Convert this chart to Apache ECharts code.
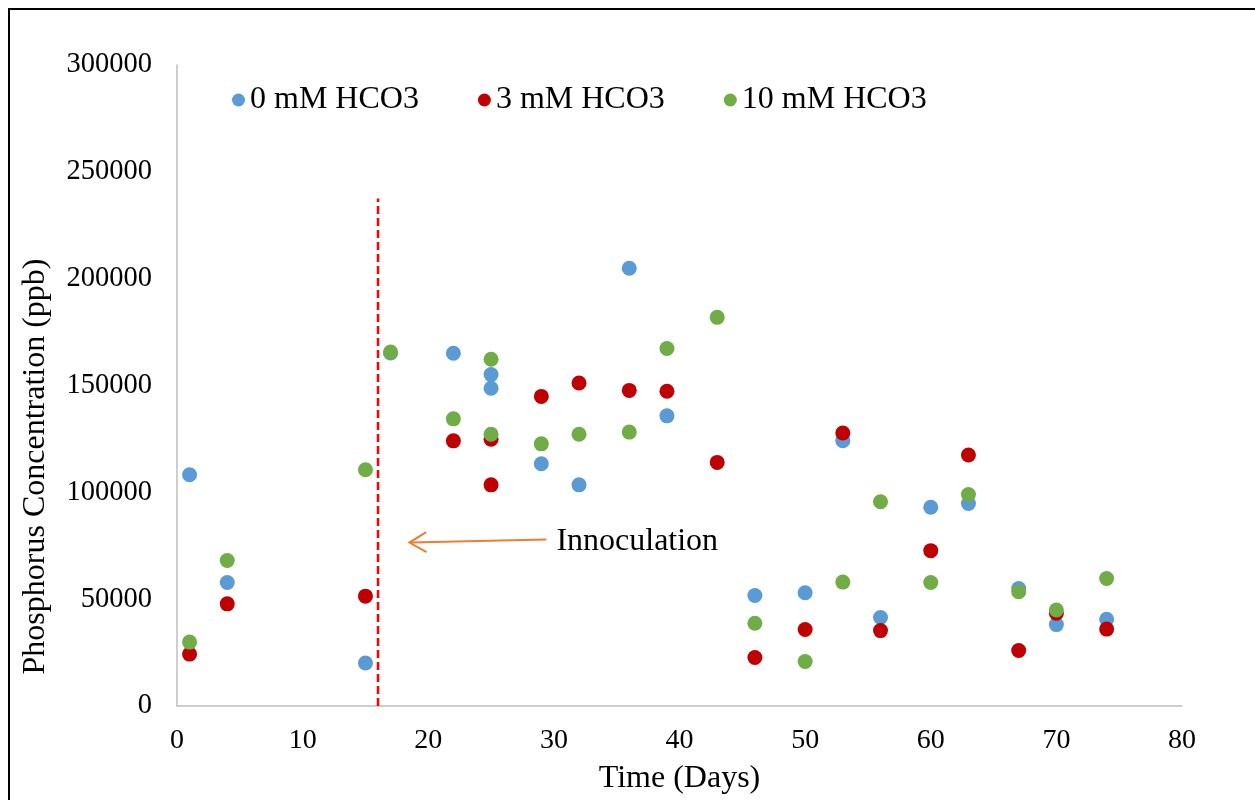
<!DOCTYPE html>
<html>
<head>
<meta charset="utf-8">
<script src="https://cdn.jsdelivr.net/npm/echarts@6/dist/echarts.min.js"></script>
<style>html,body{margin:0;padding:0;background:#fff}#c{width:1255px;height:800px}</style>
</head>
<body>
<div id="c"></div>
<script>
const seriesNames = ['0 mM HCO3', '3 mM HCO3', '10 mM HCO3'];
const xTicks = [0, 10, 20, 30, 40, 50, 60, 70, 80];
const yTicks = [0, 50000, 100000, 150000, 200000, 250000, 300000];

const days0 = [1, 4, 15, 17, 22, 25, 25, 29, 32, 36, 39, 46, 50, 53, 56, 60, 63, 67, 70, 74];
const vals0 = [108200, 57800, 20100, 165200, 165100, 155100, 148700, 113400, 103500, 204900, 135800, 51700, 53000, 124200, 41400, 93000, 94800, 55000, 38100, 40600];

const days3 = [1, 4, 15, 22, 25, 25, 29, 32, 36, 39, 43, 46, 50, 53, 56, 60, 63, 67, 70, 74];
const vals3 = [24300, 47800, 51400, 124100, 124900, 103500, 144900, 151200, 147700, 147300, 114000, 22700, 35800, 127800, 35300, 72700, 117500, 26000, 43400, 36000];

const days10 = [1, 4, 15, 17, 22, 25, 25, 29, 32, 36, 39, 43, 46, 50, 53, 56, 60, 63, 67, 70, 74];
const vals10 = [29900, 68100, 110600, 165700, 134400, 162300, 127200, 122700, 127200, 128200, 167300, 181900, 38700, 20800, 58000, 95600, 57800, 99000, 53500, 44900, 59700];

const inoculationDay = 16;
const inoculationTop = 237500;
const arrowFrom = [29.4, 77900];
const arrowTo = [18.5, 76500];
const labelAt = [30.2, 76900];
const annotationText = 'Innoculation';

const colors = ['#5B9BD5', '#C00000', '#70AD47'];
const font = '"Liberation Serif", "Times New Roman", serif';

function zip(a, b) { return a.map((d, i) => [d, b[i]]); }

const chart = echarts.init(document.getElementById('c'), null, {renderer: 'canvas'});
chart.setOption({
  animation: false,
  backgroundColor: '#fff',
  textStyle: {fontFamily: font, color: '#000'},
  graphic: [{
    type: 'rect', z: 100,
    shape: {x: 9, y: 9, width: 1400, height: 1000},
    style: {fill: 'none', stroke: '#000', lineWidth: 2}
  }],
  grid: {left: 177, top: 65, right: 73, bottom: 92, containLabel: false},
  legend: {
    top: 79, left: 227,
    icon: 'circle', itemWidth: 13, itemHeight: 13, itemGap: 59,
    textStyle: {fontFamily: font, fontSize: 32, color: '#000'},
    data: seriesNames
  },
  xAxis: {
    type: 'value', min: xTicks[0], max: xTicks[xTicks.length - 1], interval: 10,
    name: 'Time (Days)', nameLocation: 'middle', nameGap: 57,
    nameTextStyle: {fontFamily: font, fontSize: 32, color: '#000'},
    axisLine: {lineStyle: {color: '#BFBFBF', width: 1.5}},
    axisTick: {show: false},
    splitLine: {show: false},
    axisLabel: {fontFamily: font, fontSize: 28, color: '#000', margin: 21}
  },
  yAxis: {
    type: 'value', min: yTicks[0], max: yTicks[yTicks.length - 1], interval: 50000,
    name: 'Phosphorus Concentration (ppb)', nameLocation: 'middle', nameGap: 125,
    nameTextStyle: {fontFamily: font, fontSize: 32, color: '#000', padding: [0, 162, 0, 0]},
    axisLine: {show: true, lineStyle: {color: '#BFBFBF', width: 1.5}},
    axisTick: {show: false},
    splitLine: {show: false},
    axisLabel: {fontFamily: font, fontSize: 28.5, color: '#000', margin: 25, formatter: function (v) { return String(v); }}
  },
  series: [
    {name: seriesNames[0], type: 'scatter', symbolSize: 15, itemStyle: {color: colors[0], opacity: 1}, data: zip(days0, vals0), z: 3},
    {name: seriesNames[1], type: 'scatter', symbolSize: 15, itemStyle: {color: colors[1], opacity: 1}, data: zip(days3, vals3), z: 4},
    {name: seriesNames[2], type: 'scatter', symbolSize: 15, itemStyle: {color: colors[2], opacity: 1}, data: zip(days10, vals10), z: 5},
    {
      name: 'inoculation', type: 'line', symbol: 'none', silent: true, z: 2,
      lineStyle: {color: '#FF0000', width: 2.5, type: [8, 4]},
      data: [[inoculationDay, 0], [inoculationDay, inoculationTop]]
    },
    {
      name: 'annotation', type: 'custom', silent: true, z: 6,
      data: [[arrowFrom[0], arrowFrom[1], arrowTo[0], arrowTo[1], labelAt[0], labelAt[1]]],
      renderItem: function (params, api) {
        const p1 = api.coord([api.value(0), api.value(1)]);
        const p2 = api.coord([api.value(2), api.value(3)]);
        const pt = api.coord([api.value(4), api.value(5)]);
        const dx = p1[0] - p2[0], dy = p1[1] - p2[1];
        const L = Math.sqrt(dx * dx + dy * dy);
        const ux = dx / L, uy = dy / L;
        const h = 17, w = 10;
        const a = [p2[0] + ux * h - uy * w, p2[1] + uy * h + ux * w];
        const b = [p2[0] + ux * h + uy * w, p2[1] + uy * h - ux * w];
        return {
          type: 'group',
          children: [
            {type: 'line', shape: {x1: p1[0], y1: p1[1], x2: p2[0] + ux, y2: p2[1] + uy}, style: {stroke: '#ED7D31', lineWidth: 2}},
            {type: 'polyline', shape: {points: [a, p2, b]}, style: {stroke: '#ED7D31', lineWidth: 2, fill: null}},
            {type: 'text', style: {x: pt[0], y: pt[1], text: annotationText, font: '32px ' + font, fill: '#000', textAlign: 'left', textVerticalAlign: 'middle'}}
          ]
        };
      }
    }
  ]
});
</script>
</body>
</html>
